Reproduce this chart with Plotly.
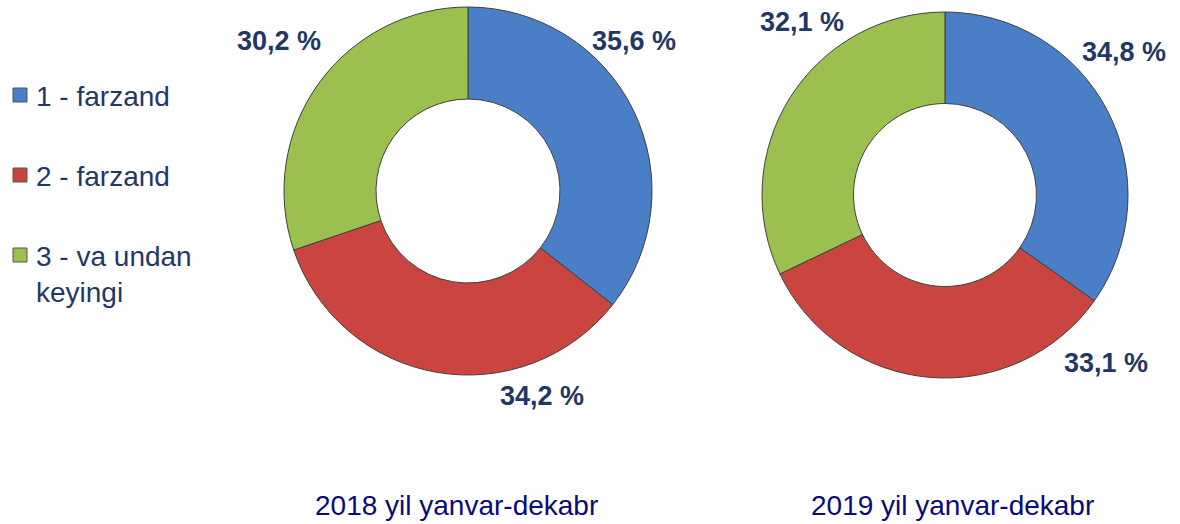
import plotly.graph_objects as go

categories = ["1 - farzand", "2 - farzand", "3 - va undan keyingi"]
legend_labels = ["1 - farzand", "2 - farzand", "3 - va undan<br>keyingi"]
values_2018 = [35.6, 34.2, 30.2]
values_2019 = [34.8, 33.1, 32.1]
titles = ["2018 yil yanvar-dekabr", "2019 yil yanvar-dekabr"]
colors = ["#4A7EC6", "#CA4540", "#9CC04F"]

W, H = 1180, 524
LABEL_COLOR = "#1F3864"

fig = go.Figure()

domains = [
    dict(x=[284 / W, 652 / W], y=[1 - 375 / H, 1 - 7 / H]),
    dict(x=[761 / W, 1129 / W], y=[1 - 378 / H, 1 - 12 / H]),
]
for vals, dom, title in zip([values_2018, values_2019], domains, titles):
    fig.add_trace(go.Pie(
        labels=categories, values=vals, hole=0.5, sort=False,
        direction="clockwise", rotation=0, domain=dom,
        marker=dict(colors=colors, line=dict(color="#404040", width=1)),
        textinfo="none", hoverinfo="label+value", showlegend=False,
    ))

# value labels (positions chosen to match the reference layout)
label_pos = [
    [(634, 41), (542, 396), (279, 41)],
    [(1124, 52), (1106, 363), (802, 22)],
]
for vals, poss in zip([values_2018, values_2019], label_pos):
    for v, (px, py) in zip(vals, poss):
        fig.add_annotation(
            x=px / W, y=1 - py / H, xref="paper", yref="paper",
            text=f"{v:.1f}".replace(".", ",") + " %", showarrow=False,
            font=dict(family="Arial, Liberation Sans, sans-serif", size=27,
                      color=LABEL_COLOR, weight="bold"),
            xanchor="center", yanchor="middle",
        )

# titles
for title, cx in zip(titles, [456, 952]):
    fig.add_annotation(
        x=cx / W, y=1 - 505 / H, xref="paper", yref="paper", text=title,
        showarrow=False, xanchor="center", yanchor="middle",
        font=dict(family="Arial, Liberation Sans, sans-serif",
                  size=28, color="#0A0A78"),
    )

# manual legend
leg_y = [95, 175, 255]
for lab, col, cy in zip(legend_labels, colors, leg_y):
    fig.add_shape(type="rect", xref="paper", yref="paper",
                  x0=13 / W, x1=27 / W, y0=1 - (cy + 7) / H, y1=1 - (cy - 7) / H,
                  fillcolor=col, line=dict(color="#555555", width=1))
    fig.add_annotation(
        x=34 / W, y=1 - (cy - 16) / H, xref="paper", yref="paper", text=lab,
        showarrow=False, xanchor="left", yanchor="top", align="left",
        font=dict(family="Arial, Liberation Sans, sans-serif", size=28, color=LABEL_COLOR),
    )

fig.update_layout(
    width=W, height=H, margin=dict(l=0, r=0, t=0, b=0),
    paper_bgcolor="white", plot_bgcolor="white", showlegend=False,
)

fig.write_html(
    "out.html",
    config={"displayModeBar": False},
    post_script="document.body.style.margin='0';document.body.style.overflow='hidden';",
)
